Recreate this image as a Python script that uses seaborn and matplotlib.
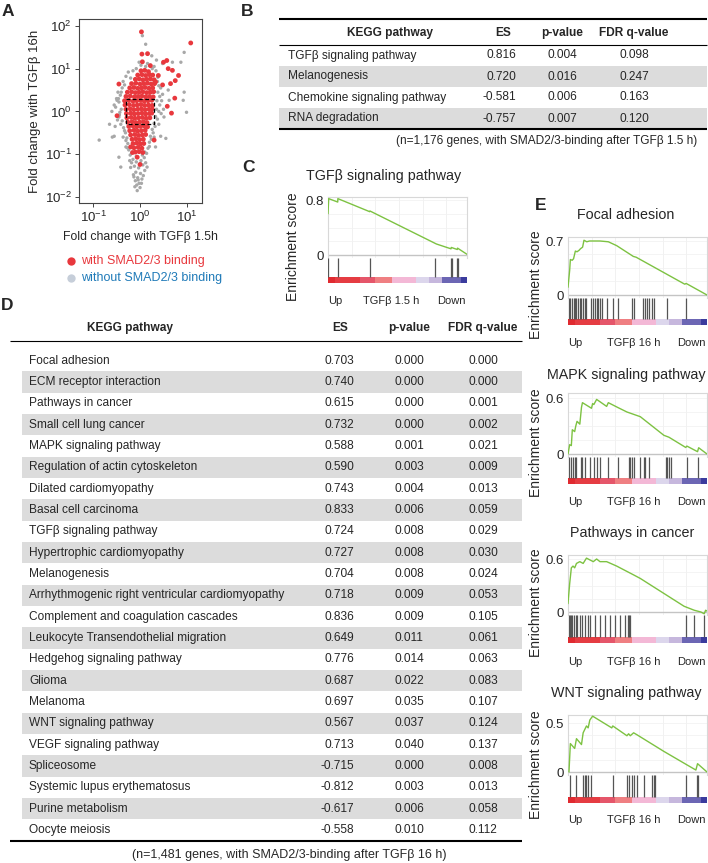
import numpy as np
import pandas as pd
import matplotlib
matplotlib.use("Agg")
import matplotlib.pyplot as plt
import seaborn as sns
from matplotlib.lines import Line2D
from matplotlib.patches import Rectangle

# ---------------- DATA ----------------
# Panel A: log10 fold changes (x: TGFb 1.5h, y: TGFb 16h)
red_core_logx = [0.02, 0.10, 0.18,
                 -0.05, 0.04, 0.12, 0.20, 0.27,
                 -0.10, -0.02, 0.06, 0.14, 0.22, 0.30,
                 -0.18, -0.09, 0.00, 0.08, 0.16, 0.24, 0.31,
                 -0.22, -0.13, -0.05, 0.03, 0.11, 0.19, 0.27,
                 -0.27, -0.18, -0.10, -0.02, 0.06, 0.14, 0.22, 0.29,
                 -0.30, -0.21, -0.12, -0.04, 0.04, 0.12, 0.20, 0.28,
                 -0.33, -0.24, -0.15, -0.07, 0.01, 0.09, 0.17, 0.25,
                 -0.32, -0.23, -0.14, -0.06, 0.02, 0.10, 0.18, 0.26,
                 -0.30, -0.21, -0.13, -0.05, 0.03, 0.11, 0.19, 0.26,
                 -0.29, -0.20, -0.12, -0.04, 0.04, 0.12, 0.20, 0.25,
                 -0.28, -0.19, -0.11, -0.03, 0.05, 0.13, 0.21,
                 -0.26, -0.17, -0.09, -0.01, 0.07, 0.15,
                 -0.24, -0.15, -0.07, 0.01, 0.09, 0.16,
                 -0.22, -0.13, -0.05, 0.03, 0.11,
                 -0.20, -0.11, -0.03, 0.05, 0.12,
                 -0.17, -0.09, -0.01, 0.07,
                 -0.15, -0.07, 0.01, 0.08,
                 -0.13, -0.04, 0.04,
                 -0.10, -0.02, 0.06]
red_core_logy = [0.95, 0.96, 0.93,
                 0.85, 0.86, 0.84, 0.86, 0.85,
                 0.75, 0.76, 0.74, 0.75, 0.76, 0.74,
                 0.65, 0.66, 0.64, 0.65, 0.66, 0.64, 0.65,
                 0.55, 0.56, 0.54, 0.55, 0.56, 0.54, 0.55,
                 0.45, 0.46, 0.44, 0.45, 0.46, 0.44, 0.45, 0.46,
                 0.35, 0.36, 0.34, 0.35, 0.36, 0.34, 0.35, 0.34,
                 0.25, 0.26, 0.24, 0.25, 0.26, 0.24, 0.25, 0.26,
                 0.15, 0.16, 0.14, 0.15, 0.16, 0.14, 0.15, 0.14,
                 0.05, 0.06, 0.04, 0.05, 0.06, 0.04, 0.05, 0.06,
                 -0.05, -0.04, -0.06, -0.05, -0.04, -0.06, -0.05, -0.04,
                 -0.15, -0.14, -0.16, -0.15, -0.14, -0.16, -0.15,
                 -0.25, -0.24, -0.26, -0.25, -0.24, -0.26,
                 -0.35, -0.34, -0.36, -0.35, -0.34, -0.36,
                 -0.45, -0.44, -0.46, -0.45, -0.44,
                 -0.55, -0.54, -0.56, -0.55, -0.54,
                 -0.65, -0.64, -0.66, -0.65,
                 -0.75, -0.74, -0.76, -0.75,
                 -0.85, -0.84, -0.86,
                 -0.95, -0.94, -0.96]
red_out_logx = [0.03, 1.08, 0.04, 0.16, 0.05, 0.22, 0.50, 0.57, 0.60, 0.69, 0.82, 0.75,
                0.65, 0.39, 0.33, 0.48, 0.74, 0.58, 0.67, -0.45, -0.49, -0.20, 0.30,
                0.00, -0.06, -0.16]
red_out_logy = [1.86, 1.60, 1.34, 1.35, 1.16, 1.07, 1.15, 1.19, 1.00, 0.96, 0.84, 0.72,
                0.65, 0.84, 0.69, 0.62, 0.31, 0.12, -0.04, 0.64, -0.10, -0.83, -0.67,
                -1.24, -1.07, -0.96]
gray_logx = [-0.38, -0.42, -0.45, -0.40, -0.44, -0.38, -0.35, -0.31, -0.28, -0.26, -0.24,
             -0.21, -0.36, -0.30, -0.25, -0.50, -0.48, -0.52,
             0.34, 0.38, 0.40, 0.38, 0.36, 0.35, 0.33, 0.30, 0.26, 0.22, 0.20, 0.17, 0.14,
             0.42, 0.45, 0.40, 0.30, 0.22, 0.12, 0.02, -0.08, -0.15,
             -0.15, -0.08, 0.02, 0.09, -0.12, -0.03, 0.06, -0.09, 0.01, -0.05, 0.04, -0.02,
             -0.10, 0.00, -0.06, 0.10, -0.18,
             -0.87, -0.55, -0.49, -0.45, -0.41, -0.13, -0.11, 0.05, 0.12, 0.94, 0.87, 0.94,
             0.99, 0.92, 0.55, 0.44, 0.48, 0.69, 0.62, 0.51, 0.33, -0.30, -0.59, -0.45,
             0.01, -0.04, -0.20, 0.25, 0.35, -0.60, -0.65, 0.60,
             -0.40, -0.46, -0.43, -0.41, -0.33, -0.30, -0.27, -0.18, 0.37, 0.42, 0.40, 0.37,
             0.32, 0.28, 0.24, 0.20, 0.10, 0.16, 0.26, -0.02, -0.20, -0.33, 0.44, 0.46,
             -0.55, -0.53, 0.50, -0.08, 0.05, -0.14, 0.07, -0.07, 0.03, 0.12, -0.22, 0.30,
             -0.36, 0.48, -0.47, 0.15]
gray_logy = [0.55, 0.38, 0.22, 0.05, -0.08, -0.22, -0.38, -0.50, -0.62, -0.75, -0.90,
             -1.02, 0.70, 0.82, 0.92, 0.30, -0.20, 0.10,
             0.95, 0.80, 0.60, 0.45, 0.25, 0.05, -0.12, -0.28, -0.42, -0.58, -0.72, -0.86,
             -0.98, 0.15, -0.05, -0.30, 1.05, 1.08, 1.05, 1.08, 1.00, 0.95,
             -1.12, -1.18, -1.15, -1.08, -1.28, -1.32, -1.25, -1.42, -1.45, -1.55, -1.58,
             -1.68, -1.62, -1.78, -1.85, -1.38, -1.20,
             -0.67, -0.58, 0.26, -0.13, -1.30, -1.53, -1.76, 1.77, 1.57, 1.38, 1.15, 0.45,
             -0.02, 0.26, -0.63, -0.58, 1.12, 1.15, 0.26, -0.13, -0.83, -0.83, -0.60, -1.07,
             -1.22, -1.60, -1.31, 1.30, 1.20, 0.00, -0.30, 0.50,
             0.45, 0.30, -0.02, -0.30, -0.45, -0.68, -0.85, -0.98, 0.70, 0.35, 0.00, -0.18,
             -0.35, -0.50, -0.65, -0.82, -0.95, 1.12, 1.00, 1.15, 0.78, 0.62, 0.55, 0.25,
             0.15, -0.35, 0.05, -1.05, -1.02, -1.48, -1.50, -1.72, -1.68, -1.20, -1.15, -0.60,
             -0.60, 0.40, 0.45, -1.30]
fc_low, fc_high = 0.5, 2.0

# Panel B table
b_pathways = ["TGFβ signaling pathway", "Melanogenesis", "Chemokine signaling pathway", "RNA degradation"]
b_es = [0.816, 0.720, -0.581, -0.757]
b_p = [0.004, 0.016, 0.006, 0.007]
b_fdr = [0.098, 0.247, 0.163, 0.120]

# Panel D table
d_pathways = ["Focal adhesion", "ECM receptor interaction", "Pathways in cancer",
              "Small cell lung cancer", "MAPK signaling pathway",
              "Regulation of actin cytoskeleton", "Dilated cardiomyopathy",
              "Basal cell carcinoma", "TGFβ signaling pathway",
              "Hypertrophic cardiomyopathy", "Melanogenesis",
              "Arrhythmogenic right ventricular cardiomyopathy",
              "Complement and coagulation cascades",
              "Leukocyte Transendothelial migration", "Hedgehog signaling pathway",
              "Glioma", "Melanoma", "WNT signaling pathway", "VEGF signaling pathway",
              "Spliceosome", "Systemic lupus erythematosus", "Purine metabolism",
              "Oocyte meiosis"]
d_es = [0.703, 0.740, 0.615, 0.732, 0.588, 0.590, 0.743, 0.833, 0.724, 0.727, 0.704,
        0.718, 0.836, 0.649, 0.776, 0.687, 0.697, 0.567, 0.713, -0.715, -0.812, -0.617,
        -0.558]
d_p = [0.000, 0.000, 0.000, 0.000, 0.001, 0.003, 0.004, 0.006, 0.008, 0.008, 0.008,
       0.009, 0.009, 0.011, 0.014, 0.022, 0.035, 0.037, 0.040, 0.000, 0.003, 0.006, 0.010]
d_fdr = [0.000, 0.000, 0.001, 0.002, 0.021, 0.009, 0.013, 0.059, 0.029, 0.030, 0.024,
         0.053, 0.105, 0.061, 0.063, 0.083, 0.107, 0.124, 0.137, 0.008, 0.013, 0.058,
         0.112]

# GSEA running enrichment scores (rank fraction, ES) and hit positions
tgfb_rank = [0.0, 0.005, 0.07, 0.071, 0.30, 0.302, 0.78, 0.885, 0.887, 0.93, 0.932, 1.0]
tgfb_es = [0.60, 0.82, 0.77, 0.82, 0.63, 0.64, 0.16, 0.09, 0.11, 0.08, 0.10, 0.01]
tgfb_hits = [0.0, 0.07, 0.30, 0.77, 0.885, 0.89, 0.93, 0.935]

focal_rank = [0.0, 0.012, 0.017, 0.03, 0.04, 0.053, 0.065, 0.08, 0.09, 0.105, 0.115, 0.135,
              0.155, 0.19, 0.23, 0.29, 0.35, 0.47, 0.49, 0.84, 0.85, 1.0]
focal_es = [0.10, 0.32, 0.46, 0.45, 0.47, 0.57, 0.56, 0.58, 0.60, 0.62, 0.71, 0.69,
            0.70, 0.70, 0.70, 0.69, 0.64, 0.50, 0.49, 0.14, 0.15, 0.0]
focal_hits = [0.007, 0.017, 0.027, 0.044, 0.053, 0.061, 0.073, 0.085, 0.097, 0.109, 0.121,
              0.128, 0.165, 0.182, 0.194, 0.206, 0.218, 0.230, 0.242, 0.278, 0.327, 0.363,
              0.46, 0.472, 0.54, 0.557, 0.569, 0.581, 0.605, 0.617, 0.709, 0.847]

mapk_rank = [0.0, 0.012, 0.024, 0.031, 0.048, 0.056, 0.065, 0.085, 0.097, 0.104, 0.169,
             0.177, 0.186, 0.206, 0.278, 0.29, 0.356, 0.424, 0.52, 0.69, 0.726, 0.847,
             0.855, 0.932, 0.94, 1.0]
mapk_es = [0.0, 0.10, 0.09, 0.26, 0.24, 0.30, 0.35, 0.32, 0.50, 0.55, 0.49, 0.54, 0.53,
           0.585, 0.51, 0.55, 0.50, 0.45, 0.40, 0.20, 0.18, 0.07, 0.085, 0.025, 0.067, 0.0]
mapk_hits = [0.007, 0.024, 0.036, 0.048, 0.061, 0.097, 0.102, 0.121, 0.157, 0.186, 0.206,
             0.23, 0.29, 0.363, 0.436, 0.448, 0.46, 0.472, 0.52, 0.545, 0.557, 0.581,
             0.702, 0.714, 0.726, 0.738, 0.855, 0.932]

cancer_rank = [0.0, 0.012, 0.024, 0.036, 0.048, 0.061, 0.085, 0.109, 0.133, 0.157, 0.182,
               0.206, 0.23, 0.278, 0.35, 0.472, 0.52, 0.69, 0.835, 0.908, 0.956, 0.98,
               0.99, 1.0]
cancer_es = [0.095, 0.32, 0.50, 0.52, 0.50, 0.55, 0.57, 0.55, 0.61, 0.59, 0.57, 0.60,
             0.57, 0.57, 0.52, 0.42, 0.38, 0.21, 0.065, 0.02, 0.0, -0.02, 0.02, 0.01]
cancer_hits = [0.005, 0.012, 0.019, 0.031, 0.041, 0.056, 0.068, 0.085, 0.102, 0.121, 0.145,
               0.157, 0.194, 0.23, 0.266, 0.303, 0.339, 0.375, 0.412, 0.429, 0.438, 0.448,
               0.847, 0.908, 0.981]

wnt_rank = [0.007, 0.017, 0.048, 0.061, 0.097, 0.109, 0.133, 0.145, 0.157, 0.177, 0.315,
            0.322, 0.424, 0.436, 0.448, 0.472, 0.496, 0.69, 0.847, 0.92, 0.932, 1.0]
wnt_es = [0.0, 0.29, 0.24, 0.34, 0.28, 0.40, 0.47, 0.45, 0.53, 0.57, 0.45, 0.47, 0.37,
          0.39, 0.37, 0.40, 0.38, 0.21, 0.08, 0.02, 0.085, 0.0]
wnt_hits = [0.017, 0.061, 0.109, 0.121, 0.133, 0.145, 0.169, 0.322, 0.424, 0.436, 0.46,
            0.472, 0.496, 0.545, 0.605, 0.617, 0.629, 0.847, 0.927, 0.932]

# ranked-list colour bar
cb_bounds = [0.0, 0.05, 0.23, 0.34, 0.46, 0.63, 0.73, 0.82, 0.96, 1.0]
cb_colors = ['#e02a30', '#e53c42', '#e5566a', '#ef7f82', '#f3b8d6', '#dcd6ec', '#c6b7dd',
             '#6c66b4', '#3b3b9d']

# ---------------- FIGURE ----------------
sns.set_theme(style="white")
plt.rcParams['font.family'] = ['Liberation Sans', 'DejaVu Sans']
plt.rcParams['mathtext.default'] = 'regular'

W, H = 708, 863
fig = plt.figure(figsize=(W / 100, H / 100), dpi=100)
fig.patch.set_facecolor('white')


def fx(x):
    return x / W


def fy(y):
    return 1 - y / H


def add_ax(l, t, r, b):
    return fig.add_axes([l / W, 1 - b / H, (r - l) / W, (b - t) / H])


def ftext(x, y, s, **kw):
    kw.setdefault('va', 'center')
    fig.text(fx(x), fy(y), s, **kw)


def hline(x0, x1, y, lw):
    fig.add_artist(Line2D([fx(x0), fx(x1)], [fy(y), fy(y)], color='black', lw=lw,
                          solid_capstyle='butt'))


# Panel letters
for lab, x, y in [('A', 2, 11), ('B', 241, 12), ('C', 242, 168), ('D', 1, 305), ('E', 535, 205)]:
    ftext(x, y, lab, fontsize=12.5, fontweight='bold', ha='left')

# ---------- Panel A ----------
axA = add_ax(79, 19, 202, 203)
dfg = pd.DataFrame({'x': 10 ** np.array(gray_logx), 'y': 10 ** np.array(gray_logy)})
dfr = pd.DataFrame({'x': 10 ** np.array(red_core_logx + red_out_logx),
                    'y': 10 ** np.array(red_core_logy + red_out_logy)})
sns.scatterplot(data=dfg, x='x', y='y', ax=axA, s=6, color='#a8a8a8', edgecolor='none',
                linewidth=0, zorder=2)
sns.scatterplot(data=dfr, x='x', y='y', ax=axA, s=12, color='#e8383d', edgecolor='none',
                linewidth=0, zorder=3)
axA.plot([fc_low, fc_high, fc_high, fc_low, fc_low], [fc_high, fc_high, fc_low, fc_low, fc_high],
         ls=(0, (3, 2)), color='black', lw=0.9, zorder=4)
axA.set_xscale('log')
axA.set_yscale('log')
axA.set_xlim(10 ** -1.30, 10 ** 1.32)
axA.set_ylim(10 ** -2.14, 10 ** 2.16)
axA.set_xticks([0.1, 1, 10])
axA.set_yticks([0.01, 0.1, 1, 10, 100])
axA.minorticks_off()
axA.tick_params(bottom=True, left=True, length=3, width=0.7, labelsize=9.5, pad=2,
                color='#444444')
for s in axA.spines.values():
    s.set_color('#444444')
    s.set_linewidth(0.8)
axA.set_xlabel('Fold change with TGFβ 1.5h', fontsize=8.8, labelpad=4)
axA.set_ylabel('Fold change with TGFβ 16h', fontsize=9.5, labelpad=3)

# legend
fig.add_artist(Line2D([fx(71)], [fy(261)], marker='o', ms=6, color='#e8383d', mec='none', lw=0))
fig.add_artist(Line2D([fx(71)], [fy(278)], marker='o', ms=6, color='#c6ced9', mec='none', lw=0))
ftext(81, 261, 'with SMAD2/3 binding', fontsize=9, color='#e8383d')
ftext(81, 278, 'without SMAD2/3 binding', fontsize=9, color='#1f7ab8')


# ---------- Tables ----------
def draw_table(names, es, pv, fdr, x0, x1, band_x0, top_rule, head_y, head_rule, row0, row_h,
               name_x, kegg_cx, es_cx, es_rx, p_cx, f_cx, fs, footer, foot_x, foot_y, foot_ha,
               foot_fs):
    if top_rule is not None:
        hline(x0, x1, top_rule, 1.5)
    ftext(kegg_cx, head_y, 'KEGG pathway', fontsize=fs, fontweight='bold', ha='center')
    ftext(es_cx, head_y, 'ES', fontsize=fs, fontweight='bold', ha='center')
    ftext(p_cx, head_y, 'p-value', fontsize=fs, fontweight='bold', ha='center')
    ftext(f_cx, head_y, 'FDR q-value', fontsize=fs, fontweight='bold', ha='center')
    hline(x0, x1, head_rule, 0.8)
    for i, (n, e, p, f) in enumerate(zip(names, es, pv, fdr)):
        yc = row0 + i * row_h
        if i % 2 == 1:
            fig.add_artist(Rectangle((fx(band_x0), fy(yc + row_h / 2)), (x1 - band_x0) / W,
                                     row_h / H, facecolor='#dcdcdc', lw=0, zorder=0))
        ftext(name_x, yc, n, fontsize=fs, ha='left')
        ftext(es_rx, yc, f'{e:.3f}', fontsize=fs, ha='right')
        ftext(p_cx, yc, f'{p:.3f}', fontsize=fs, ha='center')
        ftext(f_cx, yc, f'{f:.3f}', fontsize=fs, ha='center')
    bottom = row0 + (len(names) - 0.5) * row_h
    hline(x0, x1, bottom, 1.5)
    ftext(foot_x, foot_y, footer, fontsize=foot_fs, ha=foot_ha)


draw_table(b_pathways, b_es, b_p, b_fdr, 279, 707, 279, 19, 33, 45, 55.5, 21, 288, 390, 503,
           516, 562, 634, 8.6, '(n=1,176 genes, with SMAD2/3-binding after TGFβ 1.5 h)',
           697, 141, 'right', 8.6)
draw_table(d_pathways, d_es, d_p, d_fdr, 10, 522, 22, None, 328, 341.5, 360.5, 21.34, 29,
           130, 340, 354, 409, 483, 8.6,
           '(n=1,481 genes, with SMAD2/3-binding after TGFβ 16 h)', 132, 855, 'left', 9.0)

# ---------- GSEA panels ----------
green = '#7dc242'


def draw_gsea(l, r, top, zero, tick_px, ytick, cb_top, cb_bot, rank, es, hits, title,
              title_cx, title_y, lab_y, mid_label, mid_cx, ylab_x, ylab_y):
    scale = ytick / (zero - tick_px)
    ymax = (zero - top) * scale
    pad = 3
    ax = add_ax(l, top, r, zero + pad)
    for gx in [0.17, 0.34, 0.51, 0.68, 0.85]:
        ax.axvline(gx, color='#efefef', lw=0.6, zorder=0)
    for gy in [0.25, 0.5, 0.75, 1.0]:
        ax.axhline(gy * ytick, color='#f2f2f2', lw=0.6, zorder=0)
    ax.axhline(0, color='#c4c4c4', lw=1.0, zorder=1)
    df = pd.DataFrame({'rank': rank, 'es': es})
    sns.lineplot(data=df, x='rank', y='es', ax=ax, color=green, lw=1.0, sort=False,
                 estimator=None, zorder=3)
    ax.set_xlim(0, 1)
    ax.set_ylim(-pad * scale, ymax)
    ax.set_xticks([])
    ax.set_yticks([0, ytick])
    ax.set_yticklabels(['0', f'{ytick:g}'], fontsize=9.5)
    ax.tick_params(axis='y', length=0, pad=3)
    ax.set_xlabel('')
    ax.set_ylabel('')
    for s in ['top', 'left', 'right']:
        ax.spines[s].set_color('#d8d8d8')
        ax.spines[s].set_linewidth(0.8)
    ax.spines['bottom'].set_visible(False)

    axh = add_ax(l, zero + pad, r, cb_bot)
    hgt = cb_bot - zero - pad
    cbh = cb_bot - cb_top
    axh.set_xlim(0, 1)
    axh.set_ylim(0, hgt)
    axh.vlines(hits, cbh, hgt, color='#555555', lw=0.9)
    for a, b, c in zip(cb_bounds[:-1], cb_bounds[1:], cb_colors):
        axh.axvspan(a, b, ymin=0, ymax=cbh / hgt, color=c, lw=0)
    axh.axis('off')

    ftext(title_cx, title_y, title, fontsize=10.3, ha='center')
    ftext(l, lab_y, 'Up', fontsize=8, ha='left')
    ftext(mid_cx, lab_y, mid_label, fontsize=8, ha='center')
    ftext(r - 1, lab_y, 'Down', fontsize=8, ha='right')
    ftext(ylab_x, ylab_y, 'Enrichment score', fontsize=10, ha='center', rotation=90)


draw_gsea(328, 467, 197, 255, 200, 0.8, 277, 283, tgfb_rank, tgfb_es, tgfb_hits,
          'TGFβ signaling pathway', 384, 176, 301, 'TGFβ 1.5 h', 391, 293, 247)
draw_gsea(568, 707, 237, 295, 241, 0.7, 319, 325, focal_rank, focal_es, focal_hits,
          'Focal adhesion', 626, 215, 343, 'TGFβ 16 h', 634, 536, 285)
draw_gsea(568, 707, 393, 454, 398, 0.6, 478, 484, mapk_rank, mapk_es, mapk_hits,
          'MAPK signaling pathway', 626, 375, 502, 'TGFβ 16 h', 634, 536, 443)
draw_gsea(568, 707, 555, 612, 559, 0.6, 637, 643, cancer_rank, cancer_es, cancer_hits,
          'Pathways in cancer', 632, 533, 662, 'TGFβ 16 h', 634, 536, 603)
draw_gsea(568, 707, 715, 772, 723, 0.5, 797, 803, wnt_rank, wnt_es, wnt_hits,
          'WNT signaling pathway', 626, 693, 820, 'TGFβ 16 h', 634, 536, 765)

fig.savefig('out.png', dpi=100, facecolor='white')
